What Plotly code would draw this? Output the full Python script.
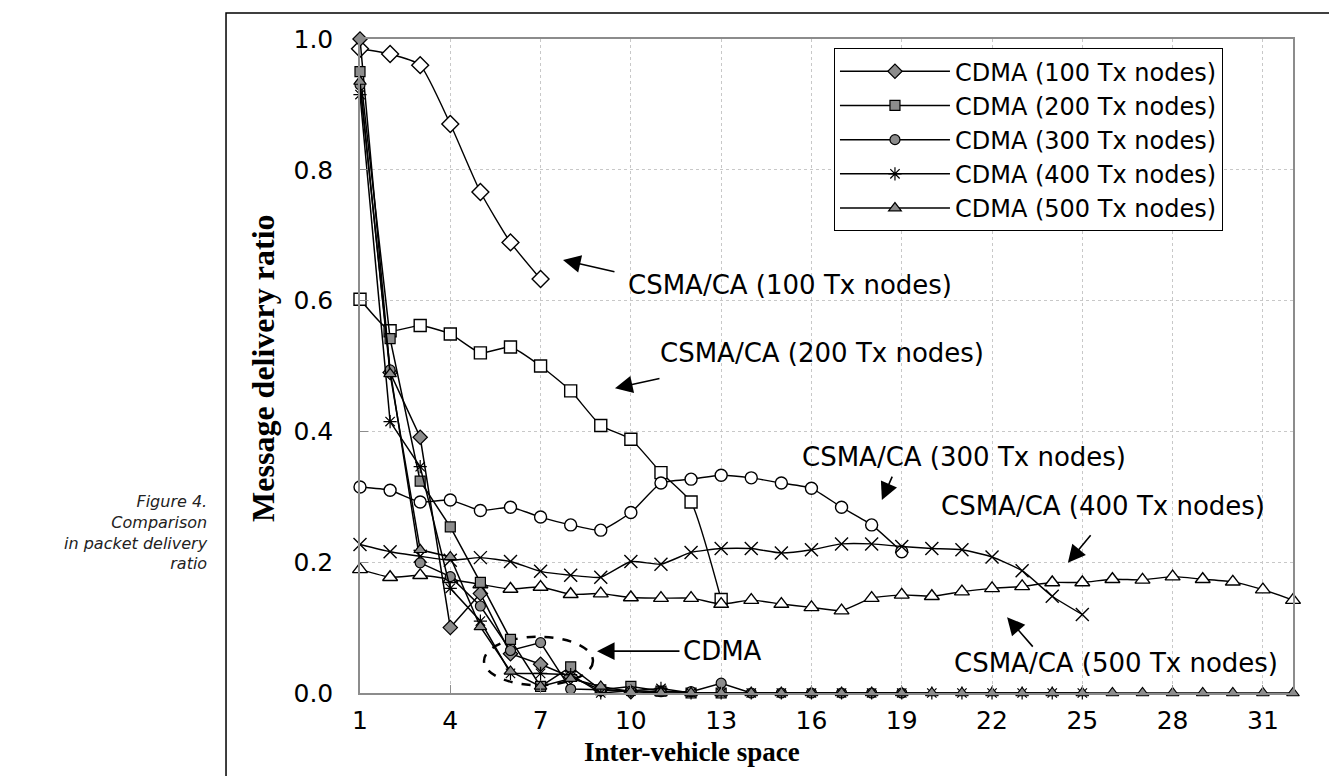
import plotly.graph_objects as go

# Inter-vehicle space (x) for each series
x_csma100 = list(range(1, 8))
x_csma200 = list(range(1, 14))
x_csma300 = list(range(1, 20))
x_csma400 = list(range(1, 26))
x_csma500 = list(range(1, 33))

x_cdma100 = list(range(1, 11))
x_cdma200 = list(range(1, 14))
x_cdma300 = list(range(1, 20))
x_cdma400 = list(range(1, 26))
x_cdma500 = list(range(1, 33))

# Message delivery ratio, CSMA/CA
csma100 = [0.985, 0.977, 0.960, 0.870, 0.766, 0.689, 0.633]
csma200 = [0.602, 0.554, 0.562, 0.549, 0.520, 0.529, 0.500, 0.462, 0.409, 0.388,
           0.337, 0.292, 0.143]
csma300 = [0.315, 0.310, 0.292, 0.295, 0.279, 0.284, 0.269, 0.257, 0.249, 0.276,
           0.321, 0.327, 0.333, 0.329, 0.321, 0.313, 0.284, 0.257, 0.216]
csma400 = [0.227, 0.216, 0.209, 0.203, 0.207, 0.201, 0.186, 0.180, 0.177, 0.201,
           0.197, 0.215, 0.221, 0.221, 0.214, 0.219, 0.228, 0.228, 0.224, 0.221,
           0.219, 0.208, 0.187, 0.148, 0.120]
csma500 = [0.189, 0.177, 0.180, 0.174, 0.166, 0.159, 0.162, 0.151, 0.152, 0.146,
           0.145, 0.145, 0.136, 0.142, 0.136, 0.131, 0.126, 0.145, 0.150, 0.148,
           0.155, 0.160, 0.163, 0.169, 0.169, 0.174, 0.173, 0.178, 0.174, 0.170,
           0.158, 0.142]

# Message delivery ratio, CDMA
cdma100 = [1.000, 0.490, 0.391, 0.100, 0.152, 0.060, 0.044, 0.025, 0.005, 0.002]
cdma200 = [0.950, 0.542, 0.324, 0.254, 0.169, 0.082, 0.010, 0.040, 0.005, 0.010,
           0.003, 0.000, 0.000]
cdma300 = [0.930, 0.494, 0.199, 0.178, 0.133, 0.065, 0.077, 0.006, 0.005, 0.003,
           0.002, 0.002, 0.015, 0.000, 0.000, 0.000, 0.000, 0.000, 0.000]
cdma400 = [0.915, 0.415, 0.346, 0.160, 0.110, 0.030, 0.030, 0.028, 0.000, 0.003,
           0.007, 0.000, 0.000, 0.000, 0.000, 0.000, 0.000, 0.000, 0.000, 0.000,
           0.000, 0.000, 0.000, 0.000, 0.000]
cdma500 = [0.935, 0.488, 0.219, 0.208, 0.101, 0.033, 0.010, 0.022, 0.010, 0.002,
           0.000, 0.000, 0.000, 0.000, 0.000, 0.000, 0.000, 0.000, 0.000, 0.000,
           0.000, 0.000, 0.000, 0.000, 0.000, 0.000, 0.000, 0.000, 0.000, 0.000,
           0.000, 0.000]

cdma_names = ["CDMA (100 Tx nodes)", "CDMA (200 Tx nodes)", "CDMA (300 Tx nodes)",
              "CDMA (400 Tx nodes)", "CDMA (500 Tx nodes)"]

x_ticks = [1, 4, 7, 10, 13, 16, 19, 22, 25, 28, 31]
y_ticks = [0.0, 0.2, 0.4, 0.6, 0.8, 1.0]
y_tick_text = ["0.0", "0.2", "0.4", "0.6", "0.8", "1.0"]

SANS = "DejaVu Sans"
SERIF = "Liberation Serif"
GRAY = "#8c8c8c"

fig = go.Figure()

# CSMA/CA curves: open (white-filled) markers, no legend entries
csma_sets = [
    (x_csma100, csma100, "diamond", 13),
    (x_csma200, csma200, "square", 12),
    (x_csma300, csma300, "circle", 12),
    (x_csma400, csma400, "x-thin", 13),
    (x_csma500, csma500, "triangle-up", 13),
]
for xs, ys, sym, size in csma_sets:
    fig.add_trace(go.Scatter(
        x=xs, y=ys, mode="lines+markers", showlegend=False,
        line=dict(color="black", width=1.4, shape="spline", smoothing=0.5),
        marker=dict(symbol=sym, size=size, color="white",
                    line=dict(color="black", width=1.4)),
        cliponaxis=False,
    ))

# CDMA curves: gray filled markers, shown in the legend
cdma_sets = [
    (x_cdma100, cdma100, "diamond", 11),
    (x_cdma200, cdma200, "square", 10),
    (x_cdma300, cdma300, "circle", 10),
    (x_cdma400, cdma400, "asterisk", 11),
    (x_cdma500, cdma500, "triangle-up", 11),
]
for (xs, ys, sym, size), name in zip(cdma_sets, cdma_names):
    fig.add_trace(go.Scatter(
        x=xs, y=ys, mode="lines+markers", name=name,
        line=dict(color="black", width=1.5),
        marker=dict(symbol=sym, size=size, color=GRAY,
                    line=dict(color="black", width=1.2)),
        cliponaxis=False,
    ))

# Arrow labels pointing at each CSMA/CA curve
labels = [
    ("CSMA/CA (100 Tx nodes)", 9.85, 0.624),
    ("CSMA/CA (200 Tx nodes)", 10.9, 0.520),
    ("CSMA/CA (300 Tx nodes)", 15.62, 0.361),
    ("CSMA/CA (400 Tx nodes)", 20.24, 0.286),
    ("CSMA/CA (500 Tx nodes)", 20.67, 0.046),
    ("CDMA", 11.66, 0.064),
]
for text, lx, ly in labels:
    fig.add_annotation(x=lx, y=ly, text=text, showarrow=False,
                       xanchor="left", yanchor="middle",
                       font=dict(family=SANS, size=26, color="black"))

arrows = [
    (7.744, 0.662, 53, 12),
    (9.472, 0.466, 46, -10),
    (18.34, 0.295, 11, -25),
    (24.52, 0.199, 24, -29),
    (22.50, 0.116, 27, 31),
    (8.874, 0.064, 84, 0),
]
for hx, hy, dx, dy in arrows:
    fig.add_annotation(x=hx, y=hy, ax=dx, ay=dy, text="", showarrow=True,
                       arrowhead=2, arrowsize=2.2, arrowwidth=1.6,
                       arrowcolor="black", standoff=0)

# Dashed ellipse around the CDMA tail
fig.add_shape(type="circle", xref="x", yref="y",
              x0=5.12, x1=8.74, y0=0.012, y1=0.086,
              line=dict(color="black", width=2.5, dash="dash"), layer="below")

# Outer frame of the figure
fig.add_shape(type="rect", xref="paper", yref="paper",
              x0=-0.1436, x1=1.06, y0=-0.2, y1=1.0398,
              line=dict(color="black", width=1.5), fillcolor="rgba(0,0,0,0)")

# Axis titles
fig.add_annotation(xref="paper", yref="paper", x=0.356, y=-0.090,
                   text="<b>Inter-vehicle space</b>", showarrow=False,
                   xanchor="center", yanchor="middle",
                   font=dict(family=SERIF, size=27, color="black"))
fig.add_annotation(xref="paper", yref="paper", x=-0.104, y=0.497,
                   text="<b>Message delivery ratio</b>", showarrow=False,
                   textangle=-90, xanchor="center", yanchor="middle",
                   font=dict(family=SERIF, size=32, color="black"))

# Caption
fig.add_annotation(xref="paper", yref="paper", x=-0.1605, y=0.2454,
                   text="<i>Figure 4.<br>Comparison<br>in packet delivery<br>ratio</i>",
                   showarrow=False, xanchor="right", yanchor="middle", align="right",
                   font=dict(family=SANS, size=16, color="#222222"))

fig.update_xaxes(
    range=[1, 32], tickvals=x_ticks, ticktext=[str(v) for v in x_ticks],
    showgrid=True, gridcolor="#c8c8c8", griddash="dot", gridwidth=1,
    showline=True, linecolor=GRAY, linewidth=1.5, mirror=True,
    ticks="inside", ticklen=8, tickcolor=GRAY, ticklabelstandoff=4,
    tickfont=dict(family=SANS, size=25, color="black"), zeroline=False,
)
fig.update_yaxes(
    range=[0, 1], tickvals=y_ticks, ticktext=y_tick_text,
    showgrid=True, gridcolor="#c8c8c8", griddash="dot", gridwidth=1,
    showline=True, linecolor=GRAY, linewidth=1.5, mirror=True,
    ticks="inside", ticklen=8, tickcolor=GRAY, ticklabelstandoff=20,
    tickfont=dict(family=SANS, size=25, color="black"), zeroline=False,
)

fig.update_layout(
    width=1329, height=776,
    margin=dict(l=360, r=36, t=39, b=83),
    paper_bgcolor="white", plot_bgcolor="white",
    legend=dict(
        x=0.508, y=0.986, xanchor="left", yanchor="top",
        bgcolor="white", bordercolor="black", borderwidth=1,
        font=dict(family=SANS, size=24, color="black"),
        itemwidth=110, traceorder="normal",
    ),
)

fig.write_html("out.html")
